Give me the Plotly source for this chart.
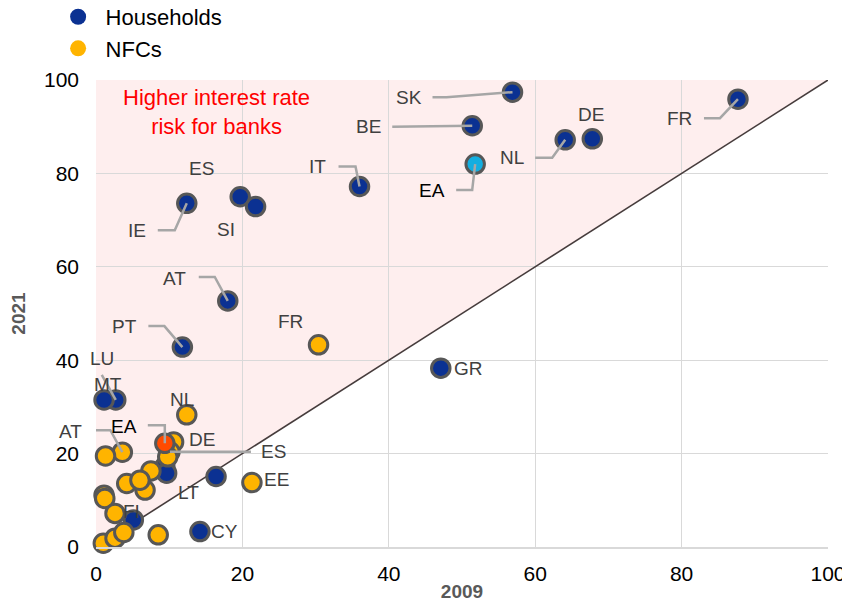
import plotly.graph_objects as go

# ---------------- data ----------------
hh_names = ["FR", "SK", "BE", "DE", "NL", "IT", "ES", "SI", "IE", "AT", "PT", "GR",
            "LU", "MT", "LT", "FI", "CY", "EE", "LV"]
hh_2009 = [87.7, 56.9, 51.4, 67.8, 64.1, 36.0, 19.7, 21.8, 12.4, 18.0, 11.8, 47.1,
           2.7, 1.1, 16.4, 5.1, 14.2, 9.4, 9.65]
hh_2021 = [95.9, 97.4, 90.2, 87.4, 87.2, 77.2, 75.0, 72.9, 73.6, 52.7, 42.8, 38.3,
           31.5, 31.5, 15.1, 5.8, 3.3, 17.2, 15.8]

nfc_names = ["FR", "NL", "DE", "ES", "AT", "EE", "", "", "", "", "", "", "", "", "",
             "", "", "", ""]
nfc_2009 = [30.4, 12.4, 10.6, 10.1, 3.6, 21.3, 1.3, 7.5, 4.2, 6.7, 6.0, 1.1, 1.2,
            2.6, 1.0, 2.6, 3.8, 8.5, 9.8]
nfc_2021 = [43.3, 28.3, 22.5, 20.4, 20.3, 13.8, 19.5, 16.3, 13.6, 12.2, 14.3, 11.1,
            10.4, 7.2, 0.8, 1.9, 3.1, 2.6, 19.3]

ea_hh_2009, ea_hh_2021 = 51.8, 82.0
ea_nfc_2009, ea_nfc_2021 = 9.4, 22.2

axis_ticks = [0, 20, 40, 60, 80, 100]
axis_min, axis_max = 0, 100

# ---------------- label placement (pixel offsets from the point, screen y down) ----
hh_label_off = {"FR": (-58, 19), "SK": (-104, 5), "BE": (-104, 1), "DE": (-1, -24),
                "NL": (-53, 18), "IT": (-42, -20), "ES": (-39, -28), "SI": (-30, 23),
                "IE": (-50, 27), "AT": (-53, -22), "PT": (-58, -21), "GR": (28, 0),
                "LU": (-14, -41), "MT": (4, -15), "LT": (-28, 16), "FI": (-2, -8),
                "CY": (25, 0)}
hh_conn = {"FR": [(-18, 19), (-34, 19)], "SK": [(-66, 5), (-80, 5)], "BE": [(-80, 1)],
           "NL": [(-13, 18), (-30, 18)], "IT": [(-4, -20), (-21, -20)],
           "IE": [(-12, 27), (-29, 27)], "AT": [(-13, -24), (-29, -24)],
           "PT": [(-18, -21), (-34, -21)], "LU": [(-14, -25)]}
ea_hh_label_off = (-43, 26)
ea_hh_conn = [(-3, 26), (-19, 26)]

nfc_label_off = {"FR": (-28, -23), "NL": (-5, -15), "DE": (28, -2), "ES": (104, 0),
                 "AT": (-52, -21), "EE": (25, -3)}
nfc_conn = {"ES": [(81, 0)], "AT": [(-12, -22), (-27, -22)]}
ea_nfc_label_off = (-41, -17)
ea_nfc_conn = [(0, -18), (-17, -18)]

# ---------------- style ----------------
FONT = "Arial, Liberation Sans, sans-serif"
C_HH = "#0B3192"
C_NFC = "#FFB400"
C_EA_HH = "#14AEE0"
C_EA_NFC = "#FF4B00"
C_EDGE = "#575757"
C_LABEL = "#404040"
C_CONN = "#A6A6A6"
C_DIAG = "#463C3C"
MSIZE = 18.5

fig = go.Figure()


def add_points(xs, ys, color, name):
    fig.add_trace(go.Scatter(
        x=xs, y=ys, mode="markers", name=name, showlegend=False, cliponaxis=False,
        marker=dict(size=MSIZE, color=color, line=dict(color=C_EDGE, width=3)),
        hoverinfo="skip"))


add_points(hh_2009, hh_2021, C_HH, "Households")
add_points(nfc_2009, nfc_2021, C_NFC, "NFCs")
add_points([ea_hh_2009], [ea_hh_2021], C_EA_HH, "EA households")
add_points([ea_nfc_2009], [ea_nfc_2021], C_EA_NFC, "EA NFCs")

# legend-only entries
for nm, col, grp in [("Households", C_HH, "a"), ("NFCs", C_NFC, "b")]:
    fig.add_trace(go.Scatter(x=[None], y=[None], mode="markers", name=nm,
                             legendgroup=grp,
                             marker=dict(size=19, color=col, line=dict(width=0))))

# shaded region above the 45-degree line
fig.add_shape(type="path",
              path=f"M {axis_min},{axis_min} L {axis_min},{axis_max} L {axis_max},{axis_max} Z",
              xref="x", yref="y", fillcolor="#FEEEEE", line=dict(width=0), layer="below")
# 45-degree line
fig.add_shape(type="line", x0=axis_min, y0=axis_min, x1=axis_max, y1=axis_max,
              xref="x", yref="y", line=dict(color=C_DIAG, width=1.6), layer="between")
# small stub of the line past the origin
fig.add_shape(type="path", xref="x", yref="y", xsizemode="pixel", ysizemode="pixel",
              xanchor=axis_min, yanchor=axis_min, path="M 0,0 L -15,-9",
              line=dict(color=C_DIAG, width=1.6), layer="between")


def add_label(x, y, text, off, color):
    fig.add_annotation(x=x, y=y, xref="x", yref="y", text=text, showarrow=False,
                       xanchor="center", yanchor="middle",
                       xshift=off[0], yshift=-off[1],
                       font=dict(family=FONT, size=19, color=color))


def add_conn(x, y, pts):
    path = "M 0,0 " + " ".join(f"L {dx},{-dy}" for dx, dy in pts)
    fig.add_shape(type="path", xref="x", yref="y", xsizemode="pixel", ysizemode="pixel",
                  xanchor=x, yanchor=y, path=path,
                  line=dict(color=C_CONN, width=2.5), layer="above")


for n, x, y in zip(hh_names, hh_2009, hh_2021):
    if n in hh_conn:
        add_conn(x, y, hh_conn[n])
    if n in hh_label_off:
        add_label(x, y, n, hh_label_off[n], C_LABEL)
for n, x, y in zip(nfc_names, nfc_2009, nfc_2021):
    if n in nfc_conn:
        add_conn(x, y, nfc_conn[n])
    if n in nfc_label_off:
        add_label(x, y, n, nfc_label_off[n], C_LABEL)

add_conn(ea_hh_2009, ea_hh_2021, ea_hh_conn)
add_label(ea_hh_2009, ea_hh_2021, "EA", ea_hh_label_off, "#000000")
add_conn(ea_nfc_2009, ea_nfc_2021, ea_nfc_conn)
add_label(ea_nfc_2009, ea_nfc_2021, "EA", ea_nfc_label_off, "#000000")

fig.add_annotation(xref="paper", yref="paper", x=0.165, y=0.931,
                   xanchor="center", yanchor="middle",
                   text="Higher interest rate<br>risk for banks", showarrow=False,
                   font=dict(family=FONT, size=22, color="#FF0000"), align="center")

axis_common = dict(range=[axis_min, axis_max], tickvals=axis_ticks, showgrid=True,
                   gridcolor="#D9D9D9", gridwidth=1, zeroline=False,
                   tickfont=dict(family=FONT, size=21, color="#000000"),
                   title_font=dict(family=FONT, size=19, color="#595959"))

# the page adds an 8px body margin, so the figure is sized to fit the window
fig.update_layout(
    width=842, height=596,
    margin=dict(l=88, r=22, t=72, b=57, autoexpand=False),
    paper_bgcolor="white", plot_bgcolor="white",
    font=dict(family=FONT),
    xaxis=dict(**axis_common, title=dict(text="<b>2009</b>", standoff=0),
               showline=True, linecolor="#D9D9D9", linewidth=2, ticklabelstandoff=7,
               automargin=False),
    yaxis=dict(**axis_common, title=dict(text="<b>2021</b>", standoff=16),
               showline=False, ticklabelstandoff=16, automargin=False),
    legend=dict(x=-0.062, y=1.18, xanchor="left", yanchor="top",
                font=dict(family=FONT, size=22, color="#000000"),
                traceorder="grouped", tracegroupgap=0, bgcolor="rgba(0,0,0,0)",
                itemsizing="trace", itemwidth=45),
    showlegend=True,
)

fig.write_html("out.html")
